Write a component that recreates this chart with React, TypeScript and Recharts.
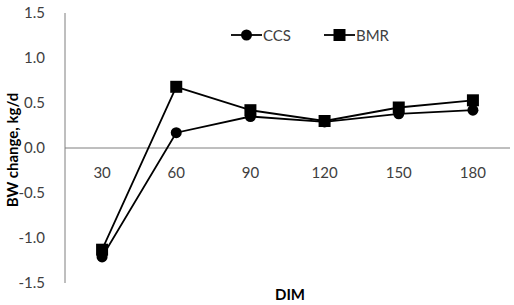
import { LineChart, Line, XAxis, YAxis, ReferenceLine, Label } from 'recharts';

const dim = ['30', '60', '90', '120', '150', '180'];
const ccs = [-1.21, 0.17, 0.35, 0.29, 0.38, 0.42];
const bmr = [-1.13, 0.68, 0.42, 0.3, 0.45, 0.53];
const yTicks = [-1.5, -1.0, -0.5, 0.0, 0.5, 1.0, 1.5];

const data = dim.map((d, i) => ({ dim: d, CCS: ccs[i], BMR: bmr[i] }));

const FONT = 'Lato, "Open Sans", sans-serif';
const INK = '#404040';
const W = 514;
const H = 305;
const AXIS_W = 65;
const AXIS_H = 22;
const M = { top: 13, right: 4, bottom: 0, left: 0 };
// zero line sits halfway down the plot, so category labels hang just under it
const zeroDrop = (H - M.top - AXIS_H) / 2;
// half a category slot on each side, so points sit mid-slot
const slotPad = (W - AXIS_W - M.right) / dim.length / 2;

function SquareDot(props: any) {
  const { cx, cy } = props;
  if (cx == null || cy == null) return null;
  return <rect x={cx - 6} y={cy - 6} width={12} height={12} fill="#000" />;
}

function CircleDot(props: any) {
  const { cx, cy } = props;
  if (cx == null || cy == null) return null;
  return <circle cx={cx} cy={cy} r={5.5} fill="#000" />;
}

function CategoryTick(props: any) {
  const { x, y, payload } = props;
  return (
    <text x={x} y={y - zeroDrop + 22} textAnchor="middle" fontSize={15} fill={INK} fontFamily={FONT}>
      {payload.value}
    </text>
  );
}

function LegendRow() {
  const item = (name: string, square: boolean, gap: number) => (
    <div style={{ display: 'flex', alignItems: 'center', marginRight: gap }}>
      <svg width={31} height={14}>
        <line x1={0} y1={7} x2={31} y2={7} stroke="#000" strokeWidth={1.8} />
        {square ? <rect x={9.5} y={1} width={12} height={12} fill="#000" /> : <circle cx={15.5} cy={7} r={5.5} fill="#000" />}
      </svg>
      <span style={{ marginLeft: 1 }}>{name}</span>
    </div>
  );
  return (
    <div
      style={{
        position: 'absolute',
        left: 231,
        top: 26,
        display: 'flex',
        fontFamily: FONT,
        fontSize: 15,
        lineHeight: '18px',
        color: INK,
      }}
    >
      {item('CCS', false, 33)}
      {item('BMR', true, 0)}
    </div>
  );
}

export default function App() {
  return (
    <div style={{ position: 'absolute', left: 0, top: 0, width: W, height: H, background: '#fff' }}>
      <LineChart width={W} height={H} data={data} margin={M}>
        <XAxis
          dataKey="dim"
          axisLine={false}
          tickLine={false}
          tick={<CategoryTick />}
          height={AXIS_H}
          padding={{ left: slotPad, right: slotPad }}
        >
          <Label
            content={() => (
              <text x={290} y={300} textAnchor="middle" fontSize={15} fontWeight="bold" fill="#000" fontFamily={FONT}>
                DIM
              </text>
            )}
          />
        </XAxis>
        <YAxis
          domain={[-1.5, 1.5]}
          ticks={yTicks}
          tickFormatter={(v: number) => v.toFixed(1)}
          width={AXIS_W}
          tickLine={false}
          tickMargin={14}
          axisLine={{ stroke: '#7f7f7f', strokeWidth: 1 }}
          tick={{ fontSize: 15, fill: INK, fontFamily: FONT }}
        >
          <Label
            content={() => (
              <text
                x={14}
                y={150}
                transform="rotate(-90 14 150)"
                textAnchor="middle"
                dominantBaseline="middle"
                fontSize={15}
                fontWeight="bold"
                fill="#000"
                fontFamily={FONT}
              >
                BW change, kg/d
              </text>
            )}
          />
        </YAxis>
        <ReferenceLine y={0} stroke="#7f7f7f" strokeWidth={1} />
        <Line
          dataKey="CCS"
          stroke="#000"
          strokeWidth={1.8}
          dot={<CircleDot />}
          activeDot={false}
          isAnimationActive={false}
        />
        <Line
          dataKey="BMR"
          stroke="#000"
          strokeWidth={1.8}
          dot={<SquareDot />}
          activeDot={false}
          isAnimationActive={false}
        />
      </LineChart>
      <LegendRow />
    </div>
  );
}
